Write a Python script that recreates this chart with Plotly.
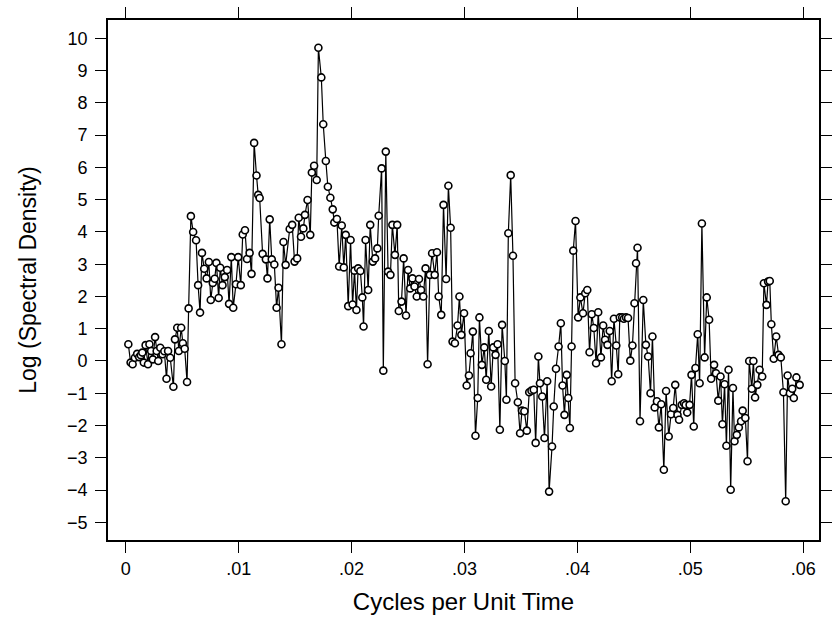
import plotly.graph_objects as go

freq = [
    .00023, .00043, .00061, .00081, .00101, .00119, .00134, .00147, .00160, .00176,
    .00197, .00210, .00225, .00240, .00260, .00274, .00288, .00306, .00326, .00342,
    .00361, .00375, .00394, .00422, .00436, .00456, .00470, .00491, .00506, .00522,
    .00543, .00557, .00577, .00597, .00623, .00641, .00658, .00675, .00695, .00716,
    .00736, .00753, .00771, .00788, .00803, .00823, .00837, .00857, .00877, .00898,
    .00915, .00935, .00952, .00976, .00996, .01019, .01036, .01056, .01074, .01097,
    .01114, .01137, .01158, .01173, .01186, .01212, .01241, .01255, .01275, .01293,
    .01316, .01336, .01353, .01379, .01397, .01416, .01452, .01474, .01495, .01518,
    .01532, .01552, .01573, .01587, .01610, .01634, .01648, .01668, .01691, .01706,
    .01732, .01749, .01772, .01790, .01812, .01833, .01847, .01870, .01890, .01913,
    .01931, .01948, .01970, .01991, .02009, .02026, .02043, .02058, .02078, .02095,
    .02106, .02124, .02147, .02165, .02188, .02208, .02228, .02240, .02266, .02281,
    .02303, .02323, .02344, .02361, .02384, .02404, .02418, .02442, .02461, .02482,
    .02500, .02519, .02539, .02557, .02577, .02597, .02615, .02635, .02655, .02673,
    .02693, .02713, .02736, .02756, .02771, .02794, .02814, .02837, .02857, .02877,
    .02894, .02915, .02938, .02955, .02972, .02996, .03019, .03039, .03054, .03074,
    .03097, .03117, .03132, .03154, .03175, .03192, .03215, .03236, .03255, .03275,
    .03293, .03313, .03333, .03357, .03371, .03388, .03409, .03429, .03448, .03472,
    .03492, .03509, .03530, .03552, .03573, .03593, .03613, .03630, .03654, .03668,
    .03688, .03708, .03732, .03749, .03775, .03790, .03810, .03833, .03853, .03868,
    .03885, .03905, .03919, .03933, .03948, .03963, .03983, .04006, .04026, .04049,
    .04069, .04087, .04107, .04127, .04145, .04165, .04184, .04208, .04228, .04245,
    .04266, .04286, .04303, .04323, .04344, .04361, .04375, .04396, .04411, .04430,
    .04448, .04468, .04487, .04505, .04519, .04532, .04554, .04583, .04606, .04626,
    .04647, .04664, .04684, .04704, .04721, .04742, .04765, .04785, .04808, .04829,
    .04848, .04866, .04886, .04900, .04924, .04944, .04958, .04972, .04993, .05010,
    .05030, .05045, .05065, .05082, .05102, .05126, .05145, .05166, .05184, .05210,
    .05227, .05247, .05267, .05284, .05303, .05319, .05338, .05357, .05377, .05391,
    .05411, .05429, .05449, .05463, .05487, .05506, .05521, .05544, .05558, .05573,
    .05593, .05613, .05636, .05651, .05674, .05688, .05703, .05717, .05738, .05760,
    .05781, .05801, .05824, .05844, .05861, .05881, .05902, .05916, .05939, .05968,
]

log_sd = [
    0.52, -0.05, -0.10, 0.10, 0.22, 0.12, 0.18, 0.26, -0.05, 0.49,
    -0.10, 0.52, 0.31, 0.05, 0.74, 0.31, 0.00, 0.41, 0.21, 0.30,
    -0.55, 0.31, 0.10, -0.80, 0.67, 1.03, 0.31, 1.03, 0.55, 0.38,
    -0.65, 1.63, 4.49, 4.00, 3.74, 2.35, 1.50, 3.35, 2.86, 2.56,
    3.07, 1.89, 2.42, 2.55, 3.04, 1.95, 2.89, 2.35, 2.60, 2.82,
    1.77, 3.22, 1.65, 2.38, 3.22, 2.35, 3.92, 4.05, 3.16, 3.35,
    2.70, 6.76, 5.75, 5.15, 5.05, 3.32, 3.15, 2.56, 4.39, 3.15,
    2.99, 1.65, 2.27, 0.52, 3.69, 2.98, 4.09, 4.22, 3.08, 3.18,
    4.44, 3.85, 4.11, 4.53, 4.99, 3.91, 5.84, 6.05, 5.61, 9.71,
    8.79, 7.34, 6.20, 5.40, 5.06, 4.70, 4.29, 4.40, 2.93, 4.20,
    2.90, 3.91, 1.70, 3.75, 1.75, 2.80, 1.58, 2.87, 2.79, 1.97,
    1.07, 3.75, 2.20, 4.22, 3.08, 3.18, 3.49, 4.50, 5.97, -0.30,
    6.49, 2.77, 2.67, 4.22, 3.29, 4.22, 1.55, 1.84, 3.18, 1.41,
    2.82, 2.25, 2.56, 2.31, 2.00, 2.54, 2.20, 2.00, 2.87, -0.10,
    2.67, 3.34, 2.67, 3.37, 2.00, 1.43, 4.84, 2.54, 5.43, 4.13,
    0.60, 0.55, 1.10, 2.00, 0.81, 1.48, -0.76, -0.45, 0.24, 0.91,
    -2.32, -1.15, 1.35, -0.12, 0.42, -0.58, 0.93, -0.79, 0.42, 0.19,
    0.52, -2.13, 1.12, 0.00, -1.20, 3.96, 5.76, 3.26, -0.69, -1.28,
    -2.24, -1.54, -1.56, -2.16, -0.97, -0.92, -0.89, -2.54, 0.14, -0.69,
    -1.10, -2.39, -0.63, -4.05, -2.65, -1.41, -0.24, 0.45, 1.17, -0.76,
    -1.67, -0.43, -1.15, -2.08, 0.45, 3.42, 4.34, 1.35, 1.97, 1.48,
    2.10, 2.20, 0.27, 1.45, 1.02, -0.07, 1.51, 0.11, 1.10, 0.66,
    0.50, 0.93, -0.63, 1.31, 0.48, -0.41, 1.35, 1.35, 1.31, 1.35,
    1.33, 0.01, 0.48, 1.79, 3.03, 3.51, -1.87, 1.89, 0.50, 0.14,
    -1.00, 0.76, -1.44, -1.25, -2.06, -1.34, -3.37, -0.93, -2.34, -1.65,
    -1.46, -0.74, -1.67, -1.82, -1.36, -1.31, -1.36, -1.60, -1.36, -0.43,
    -2.03, -0.22, 0.83, -0.69, 4.26, 0.11, 1.97, 1.28, -0.55, -0.12,
    -0.38, -1.23, -0.48, -1.96, -0.72, -2.63, -0.27, -3.99, -0.84, -2.49,
    -2.29, -2.06, -1.87, -1.54, -1.77, -3.11, 0.00, -0.86, 0.00, -1.13,
    -0.74, -0.27, -0.48, 2.41, 1.74, 2.46, 2.48, 1.14, 0.07, 0.76,
    0.19, 0.11, -0.97, -4.35, -0.45, -1.00, -0.86, -1.15, -0.51, -0.74,
]

x_tick_vals = [0, 0.01, 0.02, 0.03, 0.04, 0.05, 0.06]
x_tick_text = ["0", ".01", ".02", ".03", ".04", ".05", ".06"]
y_tick_vals = [-5, -4, -3, -2, -1, 0, 1, 2, 3, 4, 5, 6, 7, 8, 9, 10]
y_tick_text = ["\u22125", "\u22124", "\u22123", "\u22122", "\u22121", "0", "1", "2",
               "3", "4", "5", "6", "7", "8", "9", "10"]

fig = go.Figure()
fig.add_trace(go.Scatter(
    x=freq, y=log_sd, mode="lines+markers",
    line=dict(color="black", width=1.2),
    marker=dict(symbol="circle", size=7, color="white",
                line=dict(color="black", width=1.6)),
    showlegend=False, hoverinfo="skip",
))

axis_common = dict(
    showgrid=False, zeroline=False, showline=True, linecolor="black", linewidth=1.8,
    ticks="outside", ticklen=11, tickwidth=1.4, tickcolor="black", mirror="ticks",
    tickfont=dict(family="Liberation Sans, Arial, sans-serif", size=18, color="black"),
)

fig.update_layout(
    width=838, height=621,
    margin=dict(l=108, r=6, t=20, b=81),
    paper_bgcolor="white", plot_bgcolor="white",
    xaxis=dict(range=[-0.00157, 0.06139], tickvals=x_tick_vals, ticktext=x_tick_text,
               title=dict(text="Cycles per Unit Time", standoff=16,
                          font=dict(family="Liberation Sans, Arial, sans-serif", size=24, color="black")),
               **axis_common),
    yaxis=dict(range=[-5.55, 10.57], tickvals=y_tick_vals, ticktext=y_tick_text,
               ticklabelstandoff=4,
               title=dict(text="Log (Spectral Density)", standoff=24,
                          font=dict(family="Liberation Sans, Arial, sans-serif", size=23, color="black")),
               **axis_common),
)

fig.write_html("out.html")
